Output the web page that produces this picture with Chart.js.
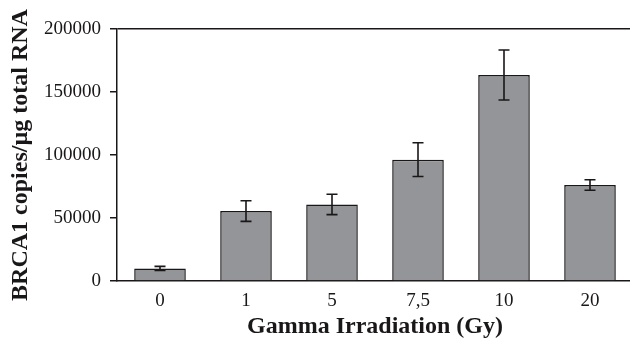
<!DOCTYPE html>
<html lang="en">
<head>
  <meta charset="UTF-8" />
  <title>BRCA1 copies vs Gamma Irradiation</title>
  <script src="https://cdn.jsdelivr.net/npm/chart.js"></script>
  <style>
    html, body {
      margin: 0;
      padding: 0;
      background: #ffffff;
      overflow: hidden;
    }
    #wrap {
      width: 633px;
      height: 340px;
    }
  </style>
</head>
<body>
  <div id="wrap"><canvas id="brcaChart"></canvas></div>

  <script>
    const doses = ["0", "1", "5", "7,5", "10", "20"];
    const copies = [10000, 55500, 60800, 96300, 163500, 76200];
    const errors = [1600, 8200, 8100, 13400, 19800, 4200];
    const yTicks = [0, 50000, 100000, 150000, 200000];

    const serif = "'Liberation Serif', 'Times New Roman', serif";
    const ink = "#1a1718";

    // error bars drawn through the y scale
    const errorBars = {
      id: "errorBars",
      afterDatasetsDraw(chart) {
        const ctx = chart.ctx;
        const y = chart.scales.y;
        const meta = chart.getDatasetMeta(0);
        ctx.save();
        ctx.strokeStyle = ink;
        ctx.lineWidth = 1.6;
        meta.data.forEach((bar, i) => {
          const top = y.getPixelForValue(copies[i] + errors[i]);
          const bot = y.getPixelForValue(copies[i] - errors[i]);
          const cx = bar.x;
          ctx.beginPath();
          ctx.moveTo(cx, top);
          ctx.lineTo(cx, bot);
          ctx.moveTo(cx - 5.5, top);
          ctx.lineTo(cx + 5.5, top);
          ctx.moveTo(cx - 5.5, bot);
          ctx.lineTo(cx + 5.5, bot);
          ctx.stroke();
        });
        ctx.restore();
      }
    };

    new Chart(document.getElementById("brcaChart"), {
      type: "bar",
      data: {
        labels: doses,
        datasets: [{
          data: copies,
          backgroundColor: "#939598",
          borderColor: ink,
          borderWidth: 1.5,
          barPercentage: 0.6,
          categoryPercentage: 1
        }]
      },
      options: {
        responsive: true,
        maintainAspectRatio: false,
        animation: false,
        devicePixelRatio: 1,
        layout: { padding: { top: 29, right: 0, left: 0, bottom: 0 } },
        plugins: {
          legend: { display: false },
          tooltip: { enabled: false }
        },
        scales: {
          x: {
            grid: { display: false, drawTicks: false },
            border: { display: true, color: ink, width: 1.5 },
            ticks: {
              color: ink,
              padding: 9,
              font: { family: serif, size: 19 }
            },
            title: {
              display: true,
              text: "Gamma Irradiation (Gy)",
              color: ink,
              padding: 0,
              font: { family: serif, size: 24, weight: "bold", lineHeight: 1.1 }
            },
            afterFit(scale) { scale.height = 59; }
          },
          y: {
            min: 0,
            max: 200000,
            afterBuildTicks(scale) {
              scale.ticks = yTicks.map(v => ({ value: v }));
            },
            grid: {
              color: c => (c.tick && c.tick.value === 200000) ? ink : "transparent",
              tickColor: ink,
              tickLength: 7,
              lineWidth: 1.5
            },
            border: { display: true, color: ink, width: 1.5 },
            ticks: {
              color: ink,
              padding: 9,
              font: { family: serif, size: 19 },
              callback: v => String(v)
            },
            title: {
              display: true,
              text: "BRCA1 copies/µg total RNA",
              color: ink,
              padding: { top: 8, bottom: 0 },
              font: { family: serif, size: 24, weight: "bold", lineHeight: 1.1 }
            },
            afterFit(scale) { scale.width = 117; }
          }
        }
      },
      plugins: [errorBars]
    });
  </script>
</body>
</html>
